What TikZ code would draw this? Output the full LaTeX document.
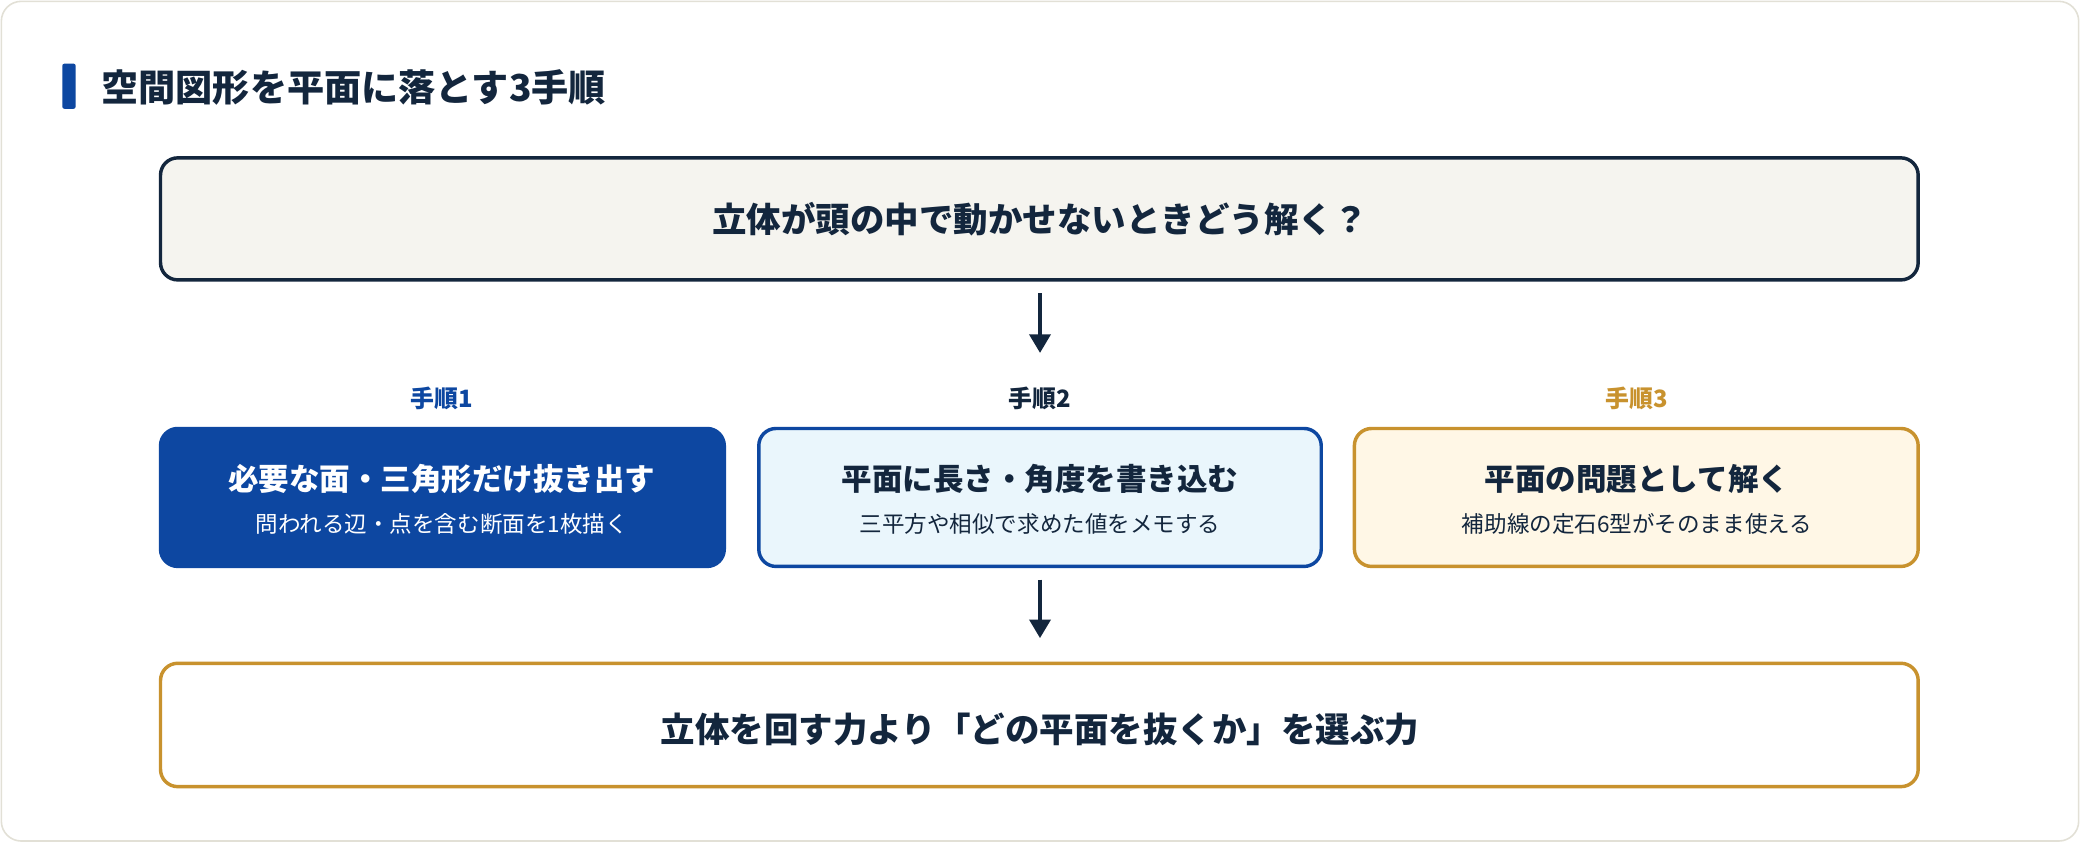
\documentclass[tikz,border=0pt]{standalone}
\usepackage{fontspec}
\setmainfont{Noto Sans CJK JP}
\usetikzlibrary{arrows.meta}
\definecolor{navy}{HTML}{13263D}
\definecolor{bblue}{HTML}{0D47A1}
\definecolor{lblue}{HTML}{EAF6FC}
\definecolor{gold}{HTML}{C8922E}
\definecolor{cream}{HTML}{FFF7E6}
\definecolor{topfill}{HTML}{F5F4EF}
\definecolor{outer}{HTML}{E2E0D6}
\begin{document}
\begin{tikzpicture}[x=1pt,y=-1pt,
  box/.style={rounded corners=13pt,line width=2.6pt},
  big/.style={font=\fontsize{26}{30}\selectfont\bfseries,text=navy},
  ttl/.style={font=\fontsize{23}{27}\selectfont\bfseries},
  sub/.style={font=\fontsize{17}{20}\selectfont},
  steplbl/.style={font=\fontsize{18}{22}\selectfont\bfseries},
  arr/.style={line width=2.4pt,draw=navy,-{Triangle[length=14pt,width=16pt]}}]
\useasboundingbox (0,0) rectangle (1568,635);
\draw[outer,line width=1.2pt,fill=white,rounded corners=15pt] (1,1) rectangle (1567,634);
\fill[bblue,rounded corners=1.5pt] (47,48) rectangle (57,82);
\node[anchor=west,font=\fontsize{28}{32}\selectfont\bfseries,text=navy] (title) at (73,66) {空間図形を平面に落とす3手順};
\draw[box,draw=navy,fill=topfill] (121,119) rectangle (1446,211);
\node[big] (q) at (784,165) {立体が頭の中で動かせないときどう解く？};
\coordinate (a1) at (784,221); \coordinate (a2) at (784,266);
\draw[arr] (a1) -- (a2);
\node[steplbl,text=bblue] (s1) at (333,300) {手順1};
\node[steplbl,text=navy] (s2) at (784,300) {手順2};
\node[steplbl,text=gold] (s3) at (1234,300) {手順3};
\draw[box,draw=bblue,fill=bblue] (121,323) rectangle (546,427);
\node[ttl,text=white] (b1) at (333,361) {必要な面・三角形だけ抜き出す};
\node[sub,text=white] (b1s) at (333,395) {問われる辺・点を含む断面を1枚描く};
\draw[box,draw=bblue,fill=lblue] (572,323) rectangle (996,427);
\node[ttl,text=navy] (b2) at (784,361) {平面に長さ・角度を書き込む};
\node[sub,text=navy] (b2s) at (784,395) {三平方や相似で求めた値をメモする};
\draw[box,draw=gold,fill=cream] (1021,323) rectangle (1446,427);
\node[ttl,text=navy] (b3) at (1234,361) {平面の問題として解く};
\node[sub,text=navy] (b3s) at (1234,395) {補助線の定石6型がそのまま使える};
\coordinate (c1) at (784,437); \coordinate (c2) at (784,481);
\draw[arr] (c1) -- (c2);
\draw[box,draw=gold,fill=white] (121,500) rectangle (1446,593);
\node[big] (ans) at (784,550) {立体を回す力より「どの平面を抜くか」を選ぶ力};
\end{tikzpicture}
\end{document}
